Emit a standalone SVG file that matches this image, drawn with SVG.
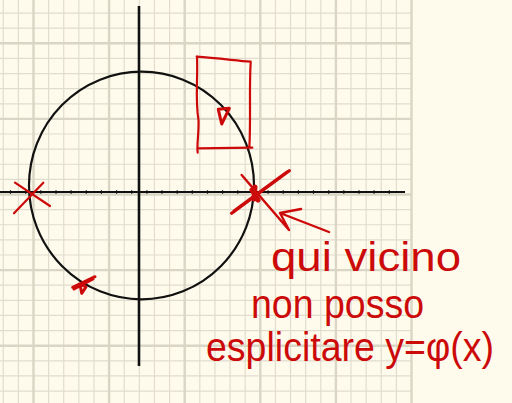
<svg xmlns="http://www.w3.org/2000/svg" width="512" height="403" viewBox="0 0 512 403">
<style>
.thin{stroke:#e0ddcf;stroke-width:1.2;fill:none}
.thick{stroke:#d9d6c6;stroke-width:2.4;fill:none}
.ink{stroke:#111;fill:none;stroke-linecap:butt}
.red{stroke:#cc0a0a;fill:none;stroke-linecap:round;stroke-linejoin:round}
.hand{font-family:"Liberation Sans","DejaVu Sans",sans-serif;font-size:40px;fill:#cc0a0a}
</style>
<rect width="512" height="403" fill="#fffbec"/>
<g id="grid">
<path class="thin" d="M3.26 0V403M18.38 0V403M48.62 0V403M63.74 0V403M78.86 0V403M93.98 0V403M124.22 0V403M139.34 0V403M154.46 0V403M169.58 0V403M199.82 0V403M214.94 0V403M230.06 0V403M245.18 0V403M275.42 0V403M290.54 0V403M305.66 0V403M320.78 0V403M351.02 0V403M366.14 0V403M381.26 0V403M396.38 0V403"/>
<path class="thin" d="M0 13.06H411.5M0 28.18H411.5M0 58.42H411.5M0 73.54H411.5M0 88.66H411.5M0 103.78H411.5M0 134.02H411.5M0 149.14H411.5M0 164.26H411.5M0 179.38H411.5M0 209.62H411.5M0 224.74H411.5M0 239.86H411.5M0 254.98H411.5M0 285.22H411.5M0 300.34H411.5M0 315.46H411.5M0 330.58H411.5M0 360.82H411.5M0 375.94H411.5M0 391.06H411.5"/>
<path class="thick" d="M33.5 0V403M109.1 0V403M184.7 0V403M260.3 0V403M335.9 0V403M411.5 0V403M0 43.3H411.5M0 118.9H411.5M0 194.5H411.5M0 270.1H411.5M0 345.7H411.5"/>
</g>
<g id="axes">
<path class="ink" stroke-width="2.6" d="M139 6V366"/>
<path class="ink" stroke-width="2.2" d="M0 192H405"/>
<path class="ink" stroke-width="1.2" d="M10.5 190.2V193.8M25.7 190.2V193.8M40.8 190.2V193.8M56 190.2V193.8M71.1 190.2V193.8M86.3 190.2V193.8M101.4 190.2V193.8M116.6 190.2V193.8M131.7 190.2V193.8M146.9 190.2V193.8M162 190.2V193.8M177.2 190.2V193.8M192.3 190.2V193.8M207.5 190.2V193.8M222.6 190.2V193.8M237.8 190.2V193.8M252.9 190.2V193.8M268.1 190.2V193.8M283.2 190.2V193.8M298.4 190.2V193.8M313.5 190.2V193.8M328.7 190.2V193.8M343.8 190.2V193.8M359 190.2V193.8M374.1 190.2V193.8M389.3 190.2V193.8"/>
</g>
<g id="circle">
<ellipse class="ink" stroke-width="2.2" cx="141.5" cy="185.5" rx="112.5" ry="113.8"/>
</g>
<g id="marks">
<path class="red" stroke-width="2.2" d="M197 56.7C198 80 195 100 198.5 120C199 135 196.5 145 197.7 152.7M196.7 56.7C215 58 232 60 250.7 61.7M250.7 61.7C249 90 251 120 249.3 148.3M197.3 148.3L252.3 147.7"/>
<path class="red" stroke-width="3" d="M218.3 109.3L229.3 108.3L221.7 124Z"/>
<path class="red" stroke-width="2.2" d="M15 182.7L50 206M14 213.3L43.3 182.7"/>
<path class="red" stroke-width="3.2" d="M231.7 213.3L289.3 170.7M234 211L287 172"/>
<path class="red" stroke-width="2.4" d="M241.7 175L289 230L280 213L301 209M280 213L329 232"/>
<path class="red" stroke-width="5" d="M252 190L258 200M255 187L254 199"/>
<path class="red" stroke-width="3" d="M72.7 287.3L95 276.7M74 289L93 279M81.7 293.3L80 284L86 287Z"/>
</g>
<g id="note">
<text class="hand" x="271" y="271" textLength="190" lengthAdjust="spacingAndGlyphs">qui vicino</text>
<text class="hand" x="251" y="318" textLength="173" lengthAdjust="spacingAndGlyphs">non posso</text>
<text class="hand" x="206" y="361" font-size="35" textLength="288" lengthAdjust="spacingAndGlyphs">esplicitare y=φ(x)</text>
</g>
</svg>
